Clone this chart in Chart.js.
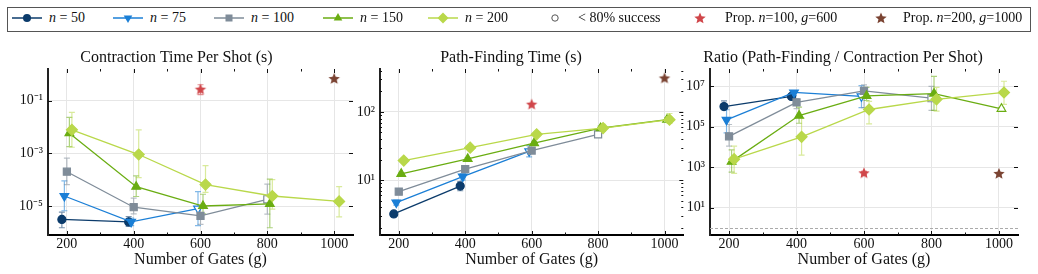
<!DOCTYPE html>
<html>
<head>
<meta charset="utf-8">
<script src="https://cdn.jsdelivr.net/npm/chart.js@4.4.0/dist/chart.umd.min.js"></script>
<style>
  body { margin: 0; background: #fff; font-family: 'Liberation Serif', 'Times New Roman', serif; color: #111; }
  #wrap { position: relative; width: 1038px; height: 274px; overflow: hidden; }
  #wrap canvas { position: absolute; top: 36px; }
  #legendBox { position: absolute; left: 7px; top: 7px; width: 1024px; height: 25px; border: 1px solid #555; box-sizing: border-box; }
  .lg-text { position: absolute; top: 10px; line-height: 16px; font-size: 14px; white-space: nowrap; }
  .lg-mark { position: absolute; top: 11px; }
</style>
</head>
<body>
<div id="wrap">
  <div id="legendBox"></div>
  <canvas id="chartCT" width="360" height="238" style="left:0px"></canvas>
  <canvas id="chartPF" width="352" height="238" style="left:338px"></canvas>
  <canvas id="chartRatio" width="370" height="238" style="left:668px"></canvas>
</div>
<script>
// ---- data ----
const GATES = [200, 400, 600, 800, 1000];
const N_VALUES = [50, 75, 100, 150, 200];

// contraction time per shot (s), one row per n
const CONTRACTION = [
  [3.1e-6, 2.5e-6, null, null, null],
  [2.4e-5, 2.5e-6, 8e-6, null, null],
  [2e-4, 9e-6, 4.2e-6, 1.8e-5, null],
  [5.8e-3, 5.4e-5, 1e-5, 1.2e-5, null],
  [7.8e-3, 9e-4, 6.5e-5, 2.4e-5, 1.5e-5]
];
const CONTRACTION_LO = [
  [1.5e-6, 1.7e-6, null, null, null],
  [6.6e-6, 1.8e-6, 1.8e-6, null, null],
  [6.5e-5, 5e-6, 2e-6, 4.9e-6, null],
  [1.8e-3, 2.3e-5, 5e-6, 1.5e-6, null],
  [1.7e-3, 1.2e-4, 3.3e-5, 7.6e-6, 3.9e-6]
];
const CONTRACTION_HI = [
  [5.9e-6, 4e-6, null, null, null],
  [9e-5, 3.5e-6, 3.5e-5, null, null],
  [6.6e-4, 2e-5, 1e-5, 6.8e-5, null],
  [2.3e-2, 1.4e-4, 2.8e-5, 1.04e-4, null],
  [3.6e-2, 7.7e-3, 3.4e-4, 1e-4, 5.4e-5]
];

// path-finding time (s)
const PATHFIND = [
  [3.2, 8.2, null, null, null],
  [4.7, 11.3, 26.5, null, null],
  [6.8, 14.5, 27.2, 47, null],
  [12.4, 20.5, 35, 58, 77],
  [19.4, 30, 47, 58, 77]
];
const PATHFIND_LO = [
  [3.0, 7.0, null, null, null],
  [4.3, 10, 22, null, null],
  [6.5, 13.8, 25, 45, null],
  [12, 19.5, 33, 54, 72],
  [18.8, 28.5, 45, 53, 68]
];
const PATHFIND_HI = [
  [3.4, 9.5, null, null, null],
  [5.1, 12.5, 32, null, null],
  [7.1, 15.2, 29, 49, null],
  [12.8, 21.5, 37, 62, 82],
  [20, 31.5, 49, 66, 95]
];

// ratio path-finding / contraction per shot
const RATIO = [
  [1.0e6, 3.2e6, null, null, null],
  [2.2e5, 5e6, 3.2e6, null, null],
  [3.4e4, 1.6e6, 6e6, 2.6e6, null],
  [1.9e3, 3.6e5, 3.4e6, 4.4e6, 7.8e5],
  [2.5e3, 3.2e4, 7.2e5, 2.3e6, 5e6]
];
const RATIO_LO = [
  [7e5, 2.6e6, null, null, null],
  [5e4, 3.5e6, 9e5, null, null],
  [1.1e4, 8e5, 9e5, 6.5e5, null],
  [580, 1.5e5, 2e6, 6.5e5, 6.5e5],
  [500, 4e3, 1.4e5, 6e5, 1.3e6]
];
const RATIO_HI = [
  [1.9e6, 4e6, null, null, null],
  [7e5, 6e6, 1.1e7, null, null],
  [1.3e5, 2.5e6, 1.2e7, 1e7, null],
  [7.2e3, 9.5e5, 9e6, 3.1e7, 9e5],
  [1.1e4, 2.7e5, 1.8e6, 9e6, 1.8e7]
];

// 1 = fewer than 80% success (hollow marker)
const LOW_SUCCESS = [
  [0, 0, 0, 0, 0],
  [0, 0, 1, 0, 0],
  [0, 0, 0, 1, 0],
  [0, 0, 0, 0, 1],
  [0, 0, 0, 0, 0]
];

// proposed instances (stars)
const PROP_GATES = [600, 1000];
const PROP_LABELS = ['Prop. n=100, g=600', 'Prop. n=200, g=1000'];
const PROP_CONTRACTION = [0.26, 0.66];
const PROP_CONTRACTION_LO = [0.17, null];
const PROP_CONTRACTION_HI = [0.4, null];
const PROP_PATHFIND = [128, 310];
const PROP_RATIO = [500, 470];
const PROP_RATIO_LO = [420, null];
const PROP_RATIO_HI = [620, null];

// ---- styles ----
const COLORS = ['#0b3b6b', '#1b7fd6', '#7f8c99', '#6aad12', '#b9d84a'];
const PROP_COLORS = ['#d0464a', '#7a4332'];
const MARKERS = ['circle', 'triangle', 'rect', 'triangle', 'rectRot'];
const ROTATIONS = [0, 180, 0, 0, 0];
const SIZES = [4, 5, 5, 5, 5.5];
const DODGE = [-15, -7.5, 0, 7.5, 15];
const X_MIN = 143.5, X_MAX = 1056.5;

Chart.defaults.font.family = "'Liberation Serif', 'Times New Roman', serif";
Chart.defaults.color = '#111';

function rgba(hex, a) {
  const v = parseInt(hex.slice(1), 16);
  return 'rgba(' + (v >> 16) + ',' + ((v >> 8) & 255) + ',' + (v & 255) + ',' + a + ')';
}

function starCanvas(color, R) {
  const c = document.createElement('canvas');
  const s = Math.ceil(R * 2) + 2;
  c.width = c.height = s;
  const g = c.getContext('2d');
  g.fillStyle = color;
  g.beginPath();
  for (let k = 0; k < 10; k++) {
    const r = k % 2 ? R * 0.45 : R;
    const a = -Math.PI / 2 + k * Math.PI / 5;
    g.lineTo(s / 2 + r * Math.cos(a), s / 2 + r * Math.sin(a));
  }
  g.closePath();
  g.fill();
  return c;
}
const STARS = PROP_COLORS.map(c => starCanvas(c, 6));

const SUP = { '-': '⁻', '0': '⁰', '1': '¹', '2': '²', '3': '³', '4': '⁴', '5': '⁵', '6': '⁶', '7': '⁷', '8': '⁸', '9': '⁹' };
function pow10Label(v) {
  return '10' + String(Math.round(Math.log10(v))).split('').map(c => SUP[c]).join('');
}

// error bars drawn under the markers
const errorBars = {
  id: 'errorBars',
  beforeDatasetsDraw(chart) {
    const { ctx, scales: { y } } = chart;
    ctx.save();
    chart.data.datasets.forEach((ds, di) => {
      if (!ds.errLo) return;
      const meta = chart.getDatasetMeta(di);
      ctx.strokeStyle = ds.errColor;
      ctx.lineWidth = 1.2;
      ds.data.forEach((p, i) => {
        if (p.y == null || ds.errLo[i] == null) return;
        const x = meta.data[i].x;
        const y1 = y.getPixelForValue(ds.errLo[i]);
        const y2 = y.getPixelForValue(ds.errHi[i]);
        ctx.beginPath();
        ctx.moveTo(x, y1); ctx.lineTo(x, y2);
        ctx.moveTo(x - 3, y1); ctx.lineTo(x + 3, y1);
        ctx.moveTo(x - 3, y2); ctx.lineTo(x + 3, y2);
        ctx.stroke();
      });
    });
    ctx.restore();
  }
};

// inward ticks on all four sides, optional dashed reference line
const frameTicks = {
  id: 'frameTicks',
  afterDraw(chart, args, opts) {
    const { ctx, chartArea: a, scales: { x, y } } = chart;
    ctx.save();
    ctx.strokeStyle = '#111';
    ctx.lineWidth = 1;
    const line = (x1, y1, x2, y2) => { ctx.beginPath(); ctx.moveTo(x1, y1); ctx.lineTo(x2, y2); ctx.stroke(); };
    for (let g = 200; g <= 1000; g += 100) {
      const px = Math.round(x.getPixelForValue(g)) + 0.5;
      const len = g % 200 === 0 ? 4 : 2.5;
      line(px, a.top, px, a.top + len);
      line(px, a.bottom, px, a.bottom - len);
    }
    opts.majors.forEach(v => {
      const py = Math.round(y.getPixelForValue(v)) + 0.5;
      line(a.left, py, a.left + 4, py);
      line(a.right, py, a.right - 4, py);
    });
    if (opts.minor) {
      const d0 = Math.floor(Math.log10(y.min)), d1 = Math.ceil(Math.log10(y.max));
      for (let d = d0; d <= d1; d++) {
        for (let k = 2; k <= 9; k++) {
          const v = k * Math.pow(10, d);
          if (v < y.min || v > y.max) continue;
          const py = Math.round(y.getPixelForValue(v)) + 0.5;
          line(a.left, py, a.left + 2, py);
          line(a.right, py, a.right - 2, py);
        }
      }
    }
    if (opts.refY != null) {
      const py = Math.round(y.getPixelForValue(opts.refY)) + 0.5;
      ctx.strokeStyle = '#aaa';
      ctx.setLineDash([3, 2]);
      line(a.left, py, a.right, py);
    }
    ctx.restore();
  }
};

function buildDatasets(values, lo, hi, propVals, propLo, propHi) {
  const sets = N_VALUES.map((n, i) => ({
    label: 'n = ' + n,
    data: GATES.map((g, j) => ({ x: g + DODGE[i], y: values[i][j] })),
    errLo: lo[i], errHi: hi[i], errColor: rgba(COLORS[i], 0.55),
    borderColor: COLORS[i],
    backgroundColor: COLORS[i],
    pointBackgroundColor: GATES.map((g, j) => LOW_SUCCESS[i][j] ? '#fff' : COLORS[i]),
    pointBorderColor: COLORS[i],
    pointBorderWidth: 1.2,
    pointStyle: MARKERS[i],
    pointRotation: ROTATIONS[i],
    pointRadius: SIZES[i],
    borderWidth: 1.3,
    order: N_VALUES.length - i
  }));
  PROP_GATES.forEach((g, k) => sets.push({
    label: PROP_LABELS[k],
    data: [{ x: g, y: propVals[k] }],
    errLo: propLo ? [propLo[k]] : null,
    errHi: propHi ? [propHi[k]] : null,
    errColor: rgba(PROP_COLORS[k], 0.6),
    showLine: false,
    pointStyle: STARS[k],
    borderColor: PROP_COLORS[k],
    backgroundColor: PROP_COLORS[k],
    order: -1
  }));
  return sets;
}

function makeChart(id, title, datasets, yMin, yMax, majors, yWidth, padRight, tickOpts) {
  return new Chart(document.getElementById(id), {
    type: 'line',
    data: { datasets: datasets },
    options: {
      responsive: false,
      animation: false,
      layout: { padding: { left: 0, right: padRight, top: 0, bottom: 0 } },
      plugins: {
        legend: { display: false },
        tooltip: { enabled: false },
        title: {
          display: true, text: title, color: '#111',
          font: { size: 16, weight: 'normal' },
          padding: { top: 12, bottom: 1.8 }
        },
        frameTicks: Object.assign({ majors: majors }, tickOpts)
      },
      scales: {
        x: {
          type: 'linear', min: X_MIN, max: X_MAX,
          afterBuildTicks: s => { s.ticks = GATES.map(v => ({ value: v })); },
          afterFit: s => { s.height = 39; },
          ticks: { font: { size: 14 }, padding: 1, color: '#111', maxRotation: 0, callback: v => String(v) },
          grid: { color: '#e6e6e6', drawTicks: false },
          border: { color: '#000', width: 2 },
          title: { display: true, text: 'Number of Gates (g)', font: { size: 16 }, color: '#111', padding: { top: 0, bottom: 5 } }
        },
        y: {
          type: 'logarithmic', min: yMin, max: yMax,
          afterBuildTicks: s => { s.ticks = majors.map(v => ({ value: v })); },
          afterFit: s => { s.width = yWidth; },
          ticks: { font: { size: 14 }, padding: 5, color: '#111', callback: v => pow10Label(v) },
          grid: { color: '#e6e6e6', drawTicks: false },
          border: { color: '#222', width: 2 }
        }
      }
    },
    plugins: [errorBars, frameTicks]
  });
}

makeChart('chartCT', 'Contraction Time Per Shot (s)',
  buildDatasets(CONTRACTION, CONTRACTION_LO, CONTRACTION_HI, PROP_CONTRACTION, PROP_CONTRACTION_LO, PROP_CONTRACTION_HI),
  Math.pow(10, -6.1), Math.pow(10, 0.2), [1e-5, 1e-3, 1e-1], 48, 7, {});

makeChart('chartPF', 'Path-Finding Time (s)',
  buildDatasets(PATHFIND, PATHFIND_LO, PATHFIND_HI, PROP_PATHFIND, null, null),
  Math.pow(10, 0.196), Math.pow(10, 2.63), [10, 100], 42, 6, { minor: true });

makeChart('chartRatio', 'Ratio (Path-Finding / Contraction Per Shot)',
  buildDatasets(RATIO, RATIO_LO, RATIO_HI, PROP_RATIO, PROP_RATIO_LO, PROP_RATIO_HI),
  Math.pow(10, -0.35), Math.pow(10, 7.86), [10, 1e3, 1e5, 1e7], 42, 20, { refY: 1 });

// ---- legend (html) ----
const wrap = document.getElementById('wrap');
const SVGNS = 'http://www.w3.org/2000/svg';
const LEG_CENTERS = [27, 128, 229, 338, 443];

function starPoints(cx, cy, R) {
  const pts = [];
  for (let k = 0; k < 10; k++) {
    const r = k % 2 ? R * 0.45 : R;
    const a = -Math.PI / 2 + k * Math.PI / 5;
    pts.push((cx + r * Math.cos(a)).toFixed(2) + ',' + (cy + r * Math.sin(a)).toFixed(2));
  }
  return pts.join(' ');
}

function markerSvg(i) {
  const c = COLORS[i];
  let m = '';
  if (i === 0) m = '<circle cx="16" cy="7" r="4" fill="' + c + '"/>';
  if (i === 1) m = '<polygon points="11.7,4.5 20.3,4.5 16,12" fill="' + c + '"/>';
  if (i === 2) m = '<rect x="12.5" y="3.5" width="7" height="7" fill="' + c + '"/>';
  if (i === 3) m = '<polygon points="11.7,9.5 20.3,9.5 16,2" fill="' + c + '"/>';
  if (i === 4) m = '<polygon points="16,1.5 21.5,7 16,12.5 10.5,7" fill="' + c + '"/>';
  return '<svg width="32" height="14"><line x1="1" y1="7" x2="31" y2="7" stroke="' + c + '" stroke-width="1.5"/>' + m + '</svg>';
}

function addLegendItem(markHtml, markLeft, textHtml, textLeft) {
  const mk = document.createElement('div');
  mk.className = 'lg-mark';
  mk.style.left = markLeft + 'px';
  mk.innerHTML = markHtml;
  wrap.appendChild(mk);
  const tx = document.createElement('div');
  tx.className = 'lg-text';
  tx.style.left = textLeft + 'px';
  tx.innerHTML = textHtml;
  wrap.appendChild(tx);
}

N_VALUES.forEach((n, i) => {
  addLegendItem(markerSvg(i), LEG_CENTERS[i] - 16, '<i>n</i> = ' + n, LEG_CENTERS[i] + 22);
});
addLegendItem('<svg width="14" height="14"><circle cx="7" cy="7" r="3.2" fill="#fff" stroke="#555" stroke-width="1"/></svg>',
  548, '&lt; 80% success', 578);
addLegendItem('<svg width="14" height="14"><polygon points="' + starPoints(7, 7.5, 6) + '" fill="' + PROP_COLORS[0] + '"/></svg>',
  693, 'Prop. <i>n</i>=100, <i>g</i>=600', 725);
addLegendItem('<svg width="14" height="14"><polygon points="' + starPoints(7, 7.5, 6) + '" fill="' + PROP_COLORS[1] + '"/></svg>',
  874, 'Prop. <i>n</i>=200, <i>g</i>=1000', 903);
</script>
</body>
</html>
